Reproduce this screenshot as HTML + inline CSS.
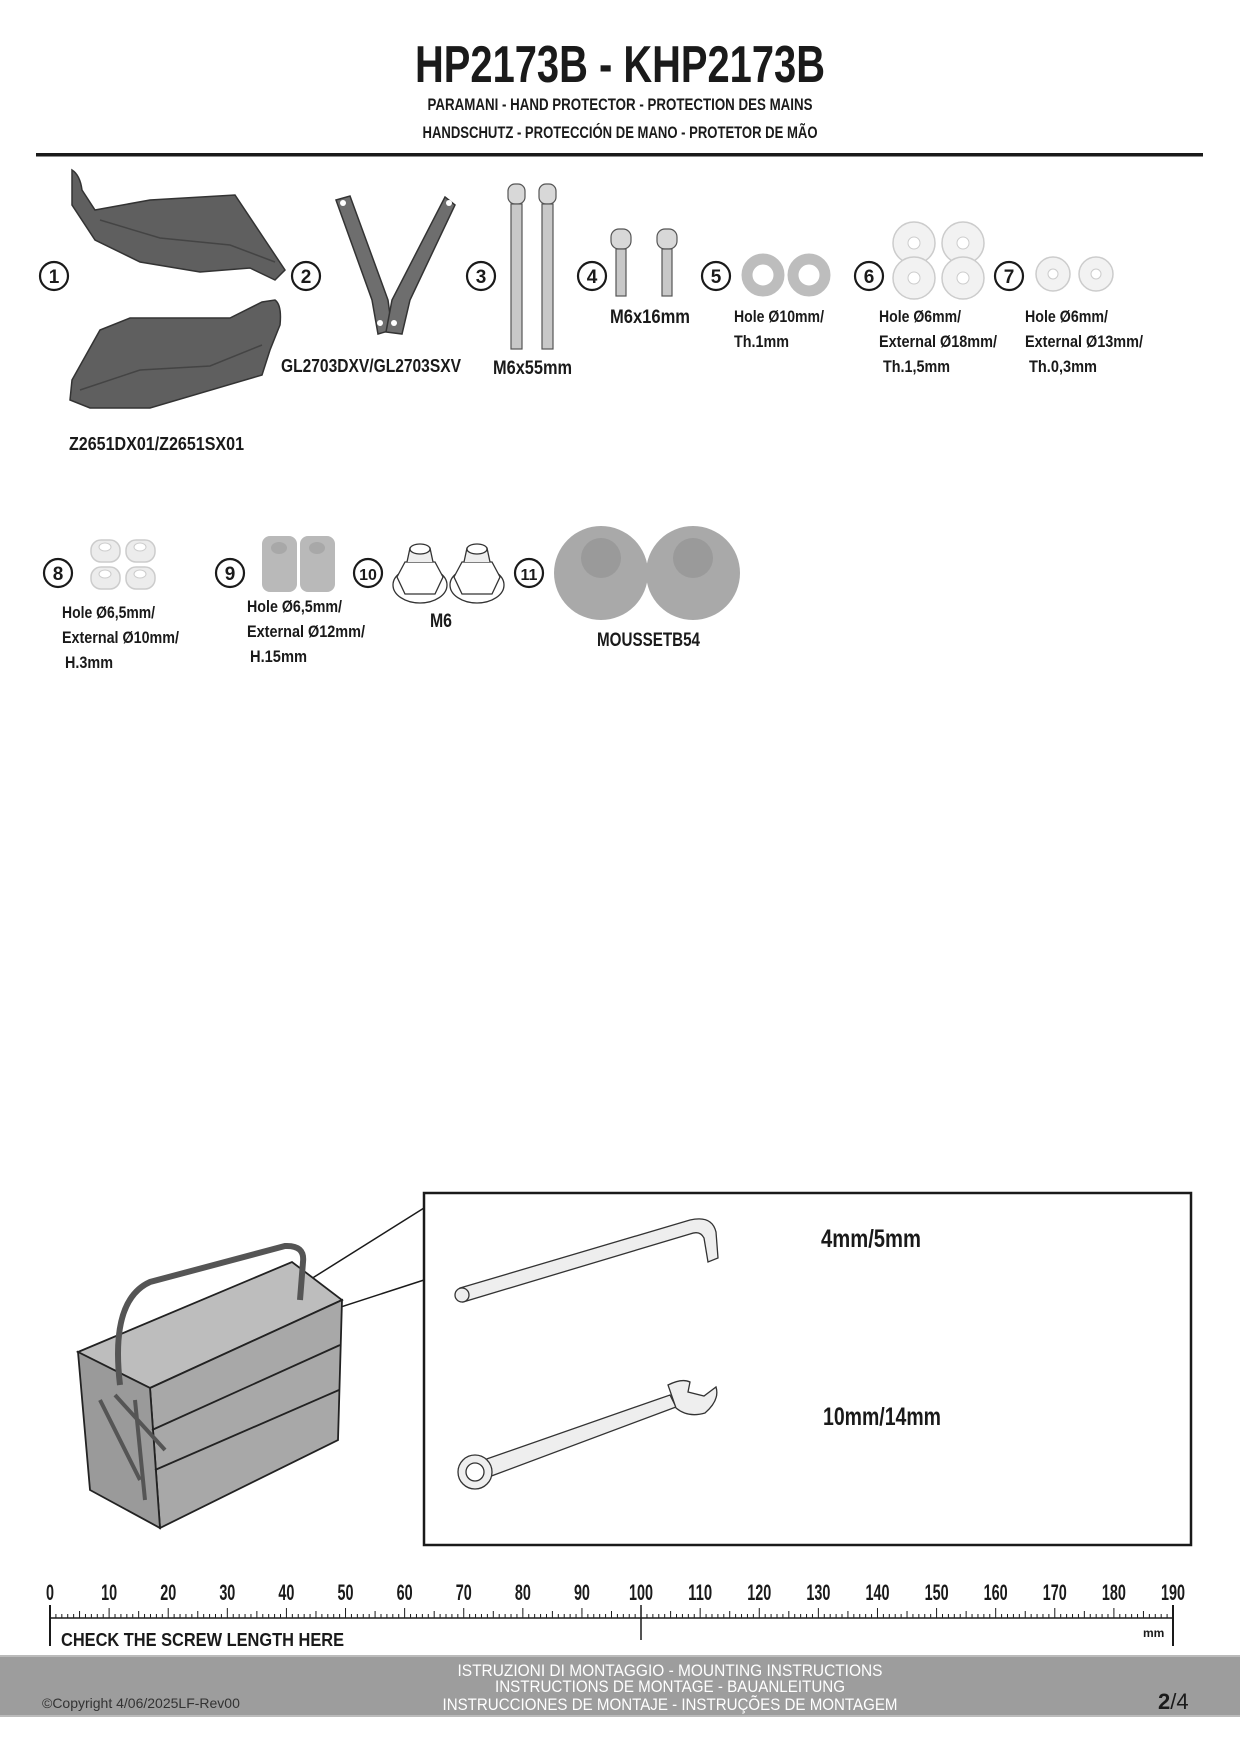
<!DOCTYPE html>
<html><head><meta charset="utf-8"><style>
html,body{margin:0;padding:0;background:#fff;}
svg{display:block}
.c{font-family:"Liberation Sans Narrow","Liberation Sans",sans-serif;font-weight:bold;fill:#1a1a1a}
</style></head><body>
<svg id="s" width="1240" height="1754" viewBox="0 0 1240 1754" xmlns="http://www.w3.org/2000/svg">
<text class="c" x="620" y="82" font-size="52" text-anchor="middle" textLength="410" lengthAdjust="spacingAndGlyphs">HP2173B - KHP2173B</text>
<text class="c" x="620" y="110" font-size="17" text-anchor="middle" textLength="385" lengthAdjust="spacingAndGlyphs">PARAMANI -  HAND PROTECTOR - PROTECTION DES MAINS</text>
<text class="c" x="620" y="138" font-size="17" text-anchor="middle" textLength="395" lengthAdjust="spacingAndGlyphs">HANDSCHUTZ - PROTECCIÓN DE MANO - PROTETOR DE MÃO</text>
<rect x="36" y="153" width="1167" height="3.5" fill="#1a1a1a"/>

<g fill="#fff" stroke="#1a1a1a" stroke-width="2.2">
<circle cx="54" cy="276" r="14"/><circle cx="306" cy="276" r="14"/><circle cx="481" cy="276" r="14"/>
<circle cx="592" cy="276" r="14"/><circle cx="716" cy="276" r="14"/><circle cx="869" cy="276" r="14"/><circle cx="1009" cy="276" r="14"/>
<circle cx="58" cy="573" r="14"/><circle cx="230" cy="573" r="14"/><circle cx="368" cy="573" r="14"/><circle cx="529" cy="573" r="14"/>
</g>
<g class="c" font-size="19" text-anchor="middle">
<text x="54" y="283">1</text><text x="306" y="283">2</text><text x="481" y="283">3</text><text x="592" y="283">4</text>
<text x="716" y="283">5</text><text x="869" y="283">6</text><text x="1009" y="283">7</text>
<text x="58" y="580">8</text><text x="230" y="580">9</text><text x="368" y="580" font-size="16">10</text><text x="529" y="580" font-size="16">11</text>
</g>

<path d="M72,170 Q80,175 82,190 L95,210 L150,200 L235,195 L265,240 L285,270 L275,280 L250,268 L200,272 L140,262 L95,240 L72,205 Z" fill="#5f5f5f" stroke="#333" stroke-width="1.5"/>
<path d="M100,220 L160,238 L230,245 L275,262" fill="none" stroke="#444" stroke-width="1.5"/>
<path d="M275,300 Q282,305 280,325 L270,350 L262,375 L150,408 L90,408 L70,400 L72,380 L100,330 L130,318 L230,318 L262,302 Z" fill="#5f5f5f" stroke="#333" stroke-width="1.5"/>
<path d="M80,390 L140,370 L210,366 L262,345" fill="none" stroke="#444" stroke-width="1.5"/>
<text class="c" x="69" y="450" font-size="18" textLength="175" lengthAdjust="spacingAndGlyphs">Z2651DX01/Z2651SX01</text>

<g stroke="#333" stroke-width="1.5" fill="#6e6e6e">
<path d="M336,200 L350,196 L388,300 L392,330 L378,334 L372,300 Z"/>
<path d="M445,197 L455,205 L410,300 L402,334 L386,332 L392,300 Z"/>
</g>
<g fill="#fff"><circle cx="343" cy="203" r="3"/><circle cx="449" cy="203" r="3"/><circle cx="380" cy="323" r="3"/><circle cx="394" cy="323" r="3"/></g>
<text class="c" x="281" y="372" font-size="18" textLength="180" lengthAdjust="spacingAndGlyphs">GL2703DXV/GL2703SXV</text>

<g stroke="#555" stroke-width="1.2" fill="#d8d8d8">
<rect x="508" y="184" width="17" height="20" rx="7"/><rect x="539" y="184" width="17" height="20" rx="7"/>
<rect x="511" y="204" width="11" height="145" fill="#c8c8c8"/><rect x="542" y="204" width="11" height="145" fill="#c8c8c8"/>
</g>
<text class="c" x="493" y="374" font-size="19" textLength="79" lengthAdjust="spacingAndGlyphs">M6x55mm</text>

<g stroke="#555" stroke-width="1.2" fill="#d8d8d8">
<rect x="611" y="229" width="20" height="20" rx="8"/><rect x="657" y="229" width="20" height="20" rx="8"/>
<rect x="616" y="249" width="10" height="47" fill="#c8c8c8"/><rect x="662" y="249" width="10" height="47" fill="#c8c8c8"/>
</g>
<text class="c" x="610" y="323" font-size="19" textLength="80" lengthAdjust="spacingAndGlyphs">M6x16mm</text>

<g fill="none" stroke="#bdbdbd" stroke-width="11"><circle cx="763" cy="275" r="16"/><circle cx="809" cy="275" r="16"/></g>
<g fill="#f2f2f2" stroke="#ccc" stroke-width="1.5">
<circle cx="914" cy="243" r="21"/><circle cx="963" cy="243" r="21"/><circle cx="914" cy="278" r="21"/><circle cx="963" cy="278" r="21"/>
<circle cx="1053" cy="274" r="17"/><circle cx="1096" cy="274" r="17"/>
</g>
<g fill="#fff" stroke="#ccc"><circle cx="914" cy="243" r="6"/><circle cx="963" cy="243" r="6"/><circle cx="914" cy="278" r="6"/><circle cx="963" cy="278" r="6"/><circle cx="1053" cy="274" r="5"/><circle cx="1096" cy="274" r="5"/></g>

<g class="c" font-size="17" lengthAdjust="spacingAndGlyphs">
<text x="734" y="322" textLength="90" lengthAdjust="spacingAndGlyphs">Hole Ø10mm/</text><text x="734" y="347" textLength="55" lengthAdjust="spacingAndGlyphs">Th.1mm</text>
<text x="879" y="322" textLength="82" lengthAdjust="spacingAndGlyphs">Hole Ø6mm/</text><text x="879" y="347" textLength="118" lengthAdjust="spacingAndGlyphs">External Ø18mm/</text><text x="883" y="372" textLength="67" lengthAdjust="spacingAndGlyphs">Th.1,5mm</text>
<text x="1025" y="322" textLength="83" lengthAdjust="spacingAndGlyphs">Hole Ø6mm/</text><text x="1025" y="347" textLength="118" lengthAdjust="spacingAndGlyphs">External Ø13mm/</text><text x="1029" y="372" textLength="68" lengthAdjust="spacingAndGlyphs">Th.0,3mm</text>
<text x="62" y="618" textLength="93" lengthAdjust="spacingAndGlyphs">Hole Ø6,5mm/</text><text x="62" y="643" textLength="117" lengthAdjust="spacingAndGlyphs">External Ø10mm/</text><text x="65" y="668" textLength="48" lengthAdjust="spacingAndGlyphs">H.3mm</text>
<text x="247" y="612" textLength="95" lengthAdjust="spacingAndGlyphs">Hole Ø6,5mm/</text><text x="247" y="637" textLength="118" lengthAdjust="spacingAndGlyphs">External Ø12mm/</text><text x="250" y="662" textLength="57" lengthAdjust="spacingAndGlyphs">H.15mm</text>
<text x="430" y="627" font-size="19" textLength="22" lengthAdjust="spacingAndGlyphs">M6</text>
<text x="597" y="646" font-size="19" textLength="103" lengthAdjust="spacingAndGlyphs">MOUSSETB54</text>
</g>

<g fill="#ececec" stroke="#ccc" stroke-width="1.5">
<rect x="91" y="540" width="29" height="22" rx="10"/><rect x="126" y="540" width="29" height="22" rx="10"/>
<rect x="91" y="567" width="29" height="22" rx="10"/><rect x="126" y="567" width="29" height="22" rx="10"/>
</g>
<g fill="#fff" stroke="#ccc"><ellipse cx="105" cy="547" rx="6" ry="4"/><ellipse cx="140" cy="547" rx="6" ry="4"/><ellipse cx="105" cy="574" rx="6" ry="4"/><ellipse cx="140" cy="574" rx="6" ry="4"/></g>
<g fill="#b9b9b9"><rect x="262" y="536" width="35" height="56" rx="8"/><rect x="300" y="536" width="35" height="56" rx="8"/></g>
<g fill="#a8a8a8"><ellipse cx="279" cy="548" rx="8" ry="6"/><ellipse cx="317" cy="548" rx="8" ry="6"/></g>
<g fill="#fff" stroke="#333" stroke-width="1.3">
<ellipse cx="420" cy="585" rx="27" ry="18"/><ellipse cx="477" cy="585" rx="27" ry="18"/>
<path d="M405,562 L435,562 L443,577 L435,594 L405,594 L397,577 Z"/><path d="M462,562 L492,562 L500,577 L492,594 L462,594 L454,577 Z"/>
<path d="M407,562 L410,548 L430,548 L433,562" fill="#eee"/><path d="M464,562 L467,548 L487,548 L490,562" fill="#eee"/>
<ellipse cx="420" cy="549" rx="10" ry="5"/><ellipse cx="477" cy="549" rx="10" ry="5"/>
</g>
<g fill="#a9a9a9"><circle cx="601" cy="573" r="47"/><circle cx="693" cy="573" r="47"/></g>
<g fill="#9a9a9a"><circle cx="601" cy="558" r="20"/><circle cx="693" cy="558" r="20"/></g>

<rect x="424" y="1193" width="767" height="352" fill="none" stroke="#1a1a1a" stroke-width="2.5"/>
<line x1="424" y1="1208" x2="225" y2="1333" stroke="#1a1a1a" stroke-width="1.5"/>
<line x1="424" y1="1280" x2="230" y2="1343" stroke="#1a1a1a" stroke-width="1.5"/>
<g stroke="#222" stroke-width="1.8" fill="#a8a8a8">
<path d="M78,1352 L292,1262 L342,1300 L150,1388 Z" fill="#bdbdbd"/>
<path d="M150,1388 L342,1300 L338,1440 L160,1528 Z"/>
<path d="M78,1352 L150,1388 L160,1528 L90,1490 Z" fill="#9a9a9a"/>
<path d="M120,1385 Q110,1300 150,1282 L285,1246 Q305,1245 303,1262 L300,1300" fill="none" stroke-width="6" stroke="#555"/>
<line x1="152" y1="1430" x2="340" y2="1345" fill="none"/>
<line x1="155" y1="1470" x2="339" y2="1390" fill="none"/>
<path d="M100,1400 L140,1480 M115,1395 L165,1450 M135,1400 L145,1500" fill="none" stroke-width="4" stroke="#555"/>
</g>
<g fill="#eee" stroke="#333" stroke-width="1.3">
<path d="M460,1288 L690,1220 Q712,1215 716,1232 L718,1258 L708,1262 L704,1238 Q700,1230 690,1234 L463,1302 Z"/>
<circle cx="462" cy="1295" r="7"/>
</g>
<g fill="#eee" stroke="#333" stroke-width="1.3">
<path d="M478,1462 L670,1395 L676,1407 L486,1478 Z"/>
<circle cx="475" cy="1472" r="17"/><circle cx="475" cy="1472" r="9" fill="#fff"/>
<path d="M668,1385 Q682,1378 690,1382 L688,1392 L704,1396 L716,1387 Q720,1400 705,1413 Q688,1418 676,1408 Z"/>
</g>
<text class="c" x="821" y="1247" font-size="25" textLength="100" lengthAdjust="spacingAndGlyphs">4mm/5mm</text>
<text class="c" x="823" y="1425" font-size="25" textLength="118" lengthAdjust="spacingAndGlyphs">10mm/14mm</text>

<g id="ruler" stroke="#1a1a1a" stroke-width="1"></g>
<line x1="50" y1="1618" x2="1173" y2="1618" stroke="#1a1a1a" stroke-width="1.5"/>
<line x1="50" y1="1605" x2="50" y2="1646" stroke="#1a1a1a" stroke-width="2"/>
<line x1="1173" y1="1605" x2="1173" y2="1646" stroke="#1a1a1a" stroke-width="2"/>
<line x1="641" y1="1605" x2="641" y2="1640" stroke="#1a1a1a" stroke-width="1.5"/>
<g id="nums" class="c" font-size="22" text-anchor="middle"></g>
<text class="c" x="1143" y="1637" font-size="12">mm</text>
<text class="c" x="61" y="1646" font-size="18" textLength="283" lengthAdjust="spacingAndGlyphs">CHECK THE SCREW LENGTH HERE</text>

<rect x="0" y="1655" width="1240" height="62" fill="#9d9d9d"/>
<rect x="0" y="1655" width="1240" height="2" fill="#bbb"/>
<rect x="0" y="1715" width="1240" height="2" fill="#bbb"/>
<g font-family="Liberation Sans Narrow, Liberation Sans, sans-serif" fill="#fff" font-size="17" text-anchor="middle">
<text x="670" y="1676" textLength="425" lengthAdjust="spacingAndGlyphs">ISTRUZIONI DI MONTAGGIO  -  MOUNTING INSTRUCTIONS</text>
<text x="670" y="1692" textLength="350" lengthAdjust="spacingAndGlyphs">INSTRUCTIONS DE MONTAGE - BAUANLEITUNG</text>
<text x="670" y="1710" textLength="455" lengthAdjust="spacingAndGlyphs">INSTRUCCIONES DE MONTAJE - INSTRUÇÕES DE MONTAGEM</text>
</g>
<text x="42" y="1708" font-family="Liberation Sans, sans-serif" font-size="14" fill="#333">©Copyright 4/06/2025LF-Rev00</text>
<text x="1158" y="1709" font-family="Liberation Sans, sans-serif" font-size="22" fill="#1a1a1a"><tspan font-weight="bold">2</tspan>/4</text>
</svg>
<script>
var ns="http://www.w3.org/2000/svg",r=document.getElementById("ruler"),n=document.getElementById("nums");
for(var i=0;i<=190;i++){var x=50+i*1123/190,h=i%10==0?10:(i%5==0?7:4);
var l=document.createElementNS(ns,"line");l.setAttribute("x1",x);l.setAttribute("x2",x);l.setAttribute("y1",1618-h);l.setAttribute("y2",1618);r.appendChild(l);
if(i%10==0){var t=document.createElementNS(ns,"text");t.setAttribute("x",x);t.setAttribute("y",1600);var s=""+i;t.setAttribute("textLength",s.length*8);t.setAttribute("lengthAdjust","spacingAndGlyphs");t.textContent=s;n.appendChild(t);}}
</script>
</body></html>
